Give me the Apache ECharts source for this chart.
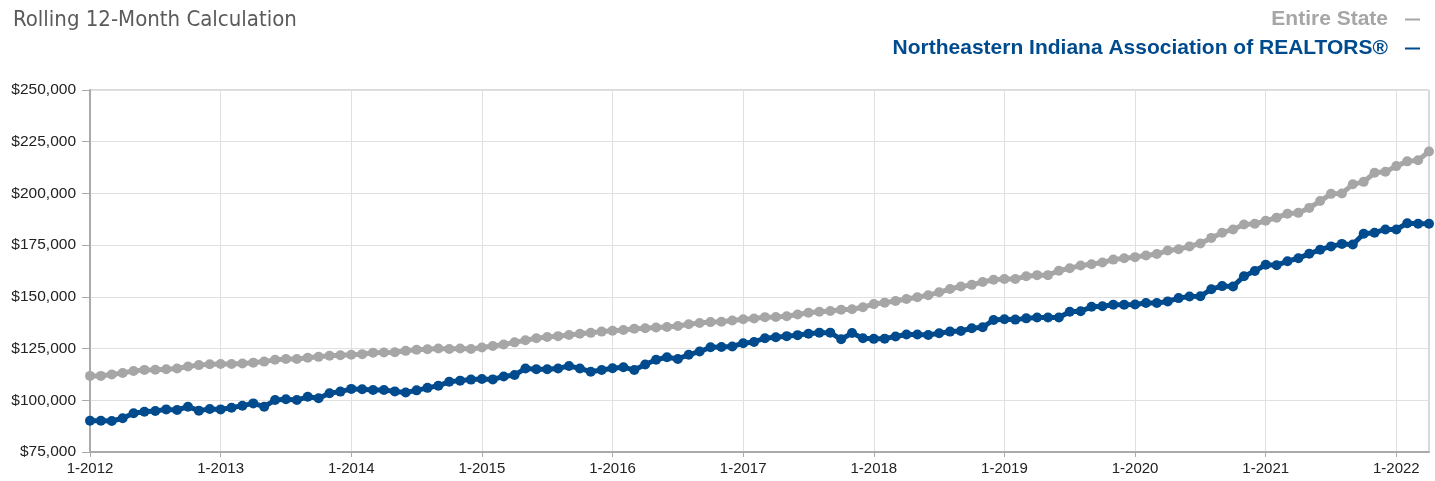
<!DOCTYPE html>
<html>
<head>
<meta charset="utf-8">
<title>Rolling 12-Month Calculation</title>
<script src="https://cdn.jsdelivr.net/npm/echarts@6/dist/echarts.min.js"></script>
<style>
  html, body { margin: 0; padding: 0; background: #fff; }
  #chart-container { width: 1435px; height: 481px; }
</style>
</head>
<body>
<div id="chart-container"></div>
<script>
// Serie mensual, enero 2012 a abril 2022
const startYear = 2012;
const monthCount = 124;

const stateName = 'Entire State';
const areaName = 'Northeastern Indiana Association of REALTORS®';

// Valores (dólares)
const stateValues = [
  111800, 111800, 112500, 113200, 114200, 114700, 114800, 115000, 115400, 116300, 117000, 117400,
  117500, 117500, 117800, 118200, 118700, 119600, 120000, 120000, 120600, 121000, 121500, 121800,
  122000, 122300, 123000, 123100, 123200, 123900, 124400, 124700, 125000, 124800, 125000, 124800,
  125500, 126200, 127000, 128000, 129000, 130000, 130600, 131000, 131600, 132200, 132600, 133200,
  133600, 134000, 134600, 134800, 135200, 135400, 135900, 136800, 137400, 137800, 138000, 138600,
  139200, 139500, 140200, 140300, 140600, 141500, 142300, 142800, 143200, 143800, 144000, 145000,
  146500, 147200, 148000, 149000, 149800, 150800, 152200, 153800, 155000, 155800, 157200, 158300,
  158600, 158600, 160000, 160500, 160500, 162600, 163800, 165200, 165800, 166600, 168000, 168700,
  169200, 170000, 170700, 172400, 173000, 174400, 175800, 178500, 181000, 182600, 185000, 185300,
  186800, 188300, 190200, 190600, 193000, 196300, 199800, 200000, 204400, 205600, 210000, 210500,
  213200, 215500, 216000, 220300
];

const areaValues = [
  90100, 90100, 90000, 91300, 93700, 94500, 94800, 95600, 95300, 96900, 95000, 95800,
  95600, 96400, 97400, 98500, 96900, 100100, 100500, 100100, 101700, 101000, 103400, 104200,
  105500, 105300, 105000, 105000, 104300, 103800, 104800, 106000, 107000, 109000, 109500, 110000,
  110300, 110100, 111500, 112200, 115400, 115000, 115000, 115400, 116600, 115400, 113800, 114600,
  115500, 116000, 114600, 117300, 119600, 120800, 120000, 122000, 123600, 125600, 125800, 126000,
  127600, 128200, 130000, 130500, 131000, 131500, 132200, 132700, 132700, 129500, 132500, 130000,
  129700, 129800, 130800, 131800, 131800, 131600, 132400, 133200, 133500, 134800, 135300, 138800,
  139200, 139000, 139600, 140000, 140000, 140000, 142800, 143000, 145200, 145500, 146200, 146200,
  146300, 147000, 147000, 147800, 149400, 150200, 150300, 153700, 155200, 155000, 160000, 162500,
  165500, 165300, 167200, 168700, 170800, 172800, 174400, 175600, 175300, 180500, 181000, 182600,
  182600, 185600, 185300, 185300
];

// Etiquetas "mes-año"
const months = [];
for (let i = 0; i < monthCount; i++) {
  months.push((i % 12 + 1) + '-' + (startYear + Math.floor(i / 12)));
}

const yMin = 75000;
const yMax = 250000;
const yStep = 25000;

const labelFont = "'Liberation Sans', Arial, sans-serif";

function initChart() {
  const chartDom = document.getElementById('chart-container');
  const myChart = echarts.init(chartDom);

  const option = {
    animation: false,
    title: {
      text: 'Rolling 12-Month Calculation',
      left: 8,
      top: 4,
      textStyle: {
        fontFamily: "'Liberation Sans Narrow', 'DejaVu Sans Condensed', sans-serif",
        fontWeight: 'normal',
        fontSize: 22,
        color: '#5b5b5b'
      }
    },
    legend: {
      orient: 'vertical',
      right: 10,
      top: 4,
      align: 'right',
      itemGap: 8,
      itemWidth: 15,
      itemHeight: 2,
      icon: 'rect',
      selectedMode: false,
      textStyle: {
        fontFamily: labelFont,
        fontWeight: 'bold',
        fontSize: 21,
        padding: [0, 12, 0, 0]
      },
      data: [
        { name: stateName, textStyle: { color: '#a6a6a6' } },
        { name: areaName, textStyle: { color: '#004b8d' } }
      ]
    },
    grid: {
      left: 90,
      right: 6,
      top: 90,
      bottom: 29,
      show: true,
      borderColor: '#b4b4b4',
      borderWidth: 1
    },
    xAxis: {
      type: 'category',
      data: months,
      boundaryGap: false,
      axisLine: { lineStyle: { color: '#aaaaaa', width: 2 } },
      axisTick: { interval: 11, length: 5, lineStyle: { color: '#aaaaaa' } },
      axisLabel: {
        interval: 11,
        margin: 9,
        fontFamily: labelFont,
        fontSize: 15,
        color: '#222'
      },
      splitLine: { show: true, interval: 11, lineStyle: { color: '#e0e0e0' } }
    },
    yAxis: {
      type: 'value',
      min: yMin,
      max: yMax,
      interval: yStep,
      axisLine: { show: true, lineStyle: { color: '#aaaaaa', width: 2 } },
      axisTick: { show: true, length: 8, lineStyle: { color: '#aaaaaa' } },
      axisLabel: {
        margin: 14,
        fontFamily: labelFont,
        fontSize: 15.5,
        color: '#222',
        formatter: v => '$' + v.toLocaleString('en-US')
      },
      splitLine: { lineStyle: { color: '#e0e0e0' } }
    },
    series: [
      {
        name: stateName,
        type: 'line',
        data: stateValues,
        symbol: 'circle',
        symbolSize: 10,
        showAllSymbol: true,
        itemStyle: { color: '#a6a6a6' },
        lineStyle: { color: '#a6a6a6', width: 5 }
      },
      {
        name: areaName,
        type: 'line',
        data: areaValues,
        symbol: 'circle',
        symbolSize: 10,
        showAllSymbol: true,
        itemStyle: { color: '#004b8d' },
        lineStyle: { color: '#004b8d', width: 5 }
      }
    ]
  };

  myChart.setOption(option);
}

initChart();
</script>
</body>
</html>
